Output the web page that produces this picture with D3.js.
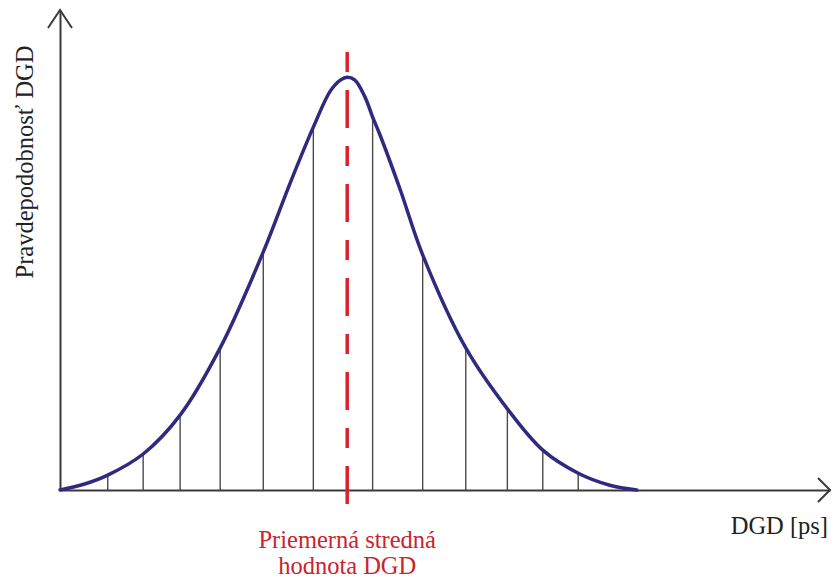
<!DOCTYPE html>
<html>
<head>
<meta charset="utf-8">
<script src="https://cdn.jsdelivr.net/npm/d3@7"></script>
<style>
  html, body { margin: 0; padding: 0; background: #fff; }
  svg { display: block; }
</style>
</head>
<body>
<svg id="chart" width="832" height="578"></svg>
<script>
// DGD probability density (arbitrary units): sample points along the bell curve
const curveX = [0, 3.2, 6.2, 10.8, 15.6, 20.8, 26.4, 29.9, 32.9, 35.1, 36.4, 37.3, 38.3, 39.6, 40.6, 41.6, 44.2, 47.1, 52.7, 58.1, 62.7, 67.3, 71.4, 74.9];
const curveY = [0, 1.25, 3.1, 7.5, 15.6, 29.6, 49.6, 64.0, 75.6, 83.1, 85.4, 86.0, 85.4, 81.9, 77.7, 73.8, 62.5, 49.0, 29.6, 16.9, 8.3, 3.5, 1.0, 0];

// positions of the vertical strips under the curve
const stripX = [6.2, 10.8, 15.6, 20.8, 26.4, 32.9, 40.6, 47.1, 52.7, 58.1, 62.7, 67.3];

// mean DGD value
const meanX = 37.3;

const yLabel = "Pravdepodobnosť DGD";
const xLabel = "DGD [ps]";
const meanLabel = ["Priemerná stredná", "hodnota DGD"];

const serif = "'Liberation Serif', 'Times New Roman', Tinos, 'Noto Serif', 'DejaVu Serif', Times, serif";

const svg = d3.select("#chart");
const x = d3.scaleLinear().domain([0, 100]).range([60, 830]);
const y = d3.scaleLinear().domain([0, 100]).range([490, 10]);

const axisColor = "#3a3a3a";

// axes (no ticks), drawn from the scales
svg.append("g")
  .attr("transform", `translate(0,${y(0)})`)
  .call(d3.axisBottom(x).tickValues([]).tickSizeOuter(0))
  .select(".domain").attr("stroke", axisColor).attr("stroke-width", 2);

svg.append("g")
  .attr("transform", `translate(${x(0)},0)`)
  .call(d3.axisLeft(y).tickValues([]).tickSizeOuter(0))
  .select(".domain").attr("stroke", axisColor).attr("stroke-width", 2);

// arrow heads
const arrow = svg.append("g").attr("fill", "none").attr("stroke", axisColor)
  .attr("stroke-width", 2).attr("stroke-linejoin", "miter");
arrow.append("polyline")
  .attr("points", `${x(0) - 12},${y(100) + 18} ${x(0)},${y(100)} ${x(0) + 12},${y(100) + 18}`);
arrow.append("polyline")
  .attr("points", `${x(100) - 12},${y(0) - 12} ${x(100)},${y(0)} ${x(100) - 12},${y(0) + 12}`);

// curve path
const pts = curveX.map((d, i) => [d, curveY[i]]);
const line = d3.line().x(d => x(d[0])).y(d => y(d[1])).curve(d3.curveCatmullRom.alpha(0.5));

const curvePath = svg.append("path")
  .datum(pts)
  .attr("d", line)
  .attr("fill", "none")
  .attr("stroke", "none");

// height of the curve at a given pixel x
const pathNode = curvePath.node();
const total = pathNode.getTotalLength();
function curveYAt(px) {
  let lo = 0, hi = total;
  for (let k = 0; k < 40; k++) {
    const mid = (lo + hi) / 2;
    if (pathNode.getPointAtLength(mid).x < px) lo = mid; else hi = mid;
  }
  return pathNode.getPointAtLength((lo + hi) / 2).y;
}

// vertical strips
svg.append("g").selectAll("line")
  .data(stripX)
  .join("line")
  .attr("x1", d => x(d)).attr("x2", d => x(d))
  .attr("y1", y(0))
  .attr("y2", d => curveYAt(x(d)))
  .attr("stroke", "#4a4a4a")
  .attr("stroke-width", 1.4);

// visible curve
svg.append("path")
  .datum(pts)
  .attr("d", line)
  .attr("fill", "none")
  .attr("stroke", "#2e2a80")
  .attr("stroke-width", 3.5)
  .attr("stroke-linecap", "round");

// mean line
svg.append("line")
  .attr("x1", x(meanX)).attr("x2", x(meanX))
  .attr("y1", 52).attr("y2", 508)
  .attr("stroke", "#d9232f")
  .attr("stroke-width", 3.5)
  .attr("stroke-dasharray", "20,18,38,18");

// labels
svg.append("text")
  .attr("transform", `translate(33,${162}) rotate(-90)`)
  .attr("text-anchor", "middle")
  .style("font-family", serif)
  .attr("font-size", 24.5)
  .attr("fill", "#222")
  .text(yLabel);

svg.append("text")
  .attr("x", 828).attr("y", 534)
  .attr("text-anchor", "end")
  .style("font-family", serif)
  .attr("font-size", 24.5)
  .attr("fill", "#222")
  .text(xLabel);

svg.append("g").selectAll("text")
  .data(meanLabel)
  .join("text")
  .attr("x", x(meanX))
  .attr("y", (d, i) => 548 + i * 26)
  .attr("text-anchor", "middle")
  .style("font-family", serif)
  .attr("font-size", 24.5)
  .attr("fill", "#c9242f")
  .text(d => d);
</script>
</body>
</html>
